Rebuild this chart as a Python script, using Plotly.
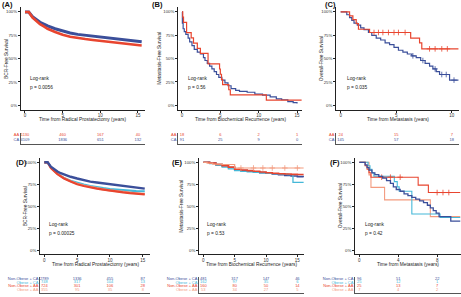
import numpy as np
import plotly.graph_objects as go

W, H = 461, 297
def fx(px): return px / W
def fy(py): return 1 - py / H

RED = '#E8452F'; NAVY = '#3B4F9A'; CYAN = '#45B8D8'; SALMON = '#F39B7F'
FONT = 'Liberation Sans, Arial, sans-serif'

# ---------------- data ----------------
# Panel A: BCR-free survival by race
a_t = [0, 0.5, 1, 1.5, 2, 2.5, 3, 4, 5, 6, 7, 8, 9, 10, 11, 12, 13, 14, 15, 15.5]
a_ca = [1, 1, 0.95, 0.915, 0.89, 0.87, 0.85, 0.82, 0.795, 0.775, 0.76, 0.75, 0.74, 0.73, 0.72, 0.712, 0.703, 0.695, 0.685, 0.68]
a_aa = [1, 1, 0.94, 0.90, 0.87, 0.845, 0.82, 0.785, 0.755, 0.735, 0.72, 0.71, 0.70, 0.69, 0.68, 0.67, 0.66, 0.65, 0.643, 0.64]

# Panel B: metastasis-free survival by race
b_ca_t = [0, 0.05, 0.15, 0.3, 0.5, 0.8, 1.0, 1.3, 1.6, 2.0, 2.4, 2.8, 3.0, 3.3, 3.6, 3.9, 4.2, 4.5, 4.8, 5.2, 5.6, 6.0, 6.4, 7.0, 7.5, 8.5, 9.5, 10.5, 11.5, 12.3, 13.0, 13.8, 14.5, 15.0]
b_ca_s = [1.0, 0.88, 0.82, 0.79, 0.76, 0.72, 0.68, 0.64, 0.60, 0.57, 0.55, 0.51, 0.48, 0.45, 0.42, 0.39, 0.36, 0.33, 0.30, 0.27, 0.24, 0.21, 0.18, 0.16, 0.15, 0.14, 0.12, 0.11, 0.09, 0.07, 0.06, 0.04, 0.03, 0.02]
b_aa_t = [0, 0.1, 0.2, 0.6, 1.2, 1.5, 2.0, 2.4, 3.4, 4.9, 5.0, 5.15, 5.3, 6.1, 6.3, 11.0, 15.6]
b_aa_s = [1.0, 0.944, 0.889, 0.778, 0.722, 0.667, 0.611, 0.556, 0.444, 0.389, 0.333, 0.278, 0.222, 0.167, 0.111, 0.056, 0.056]

# Panel C: overall survival by race
c_aa_t = [0, 0.8, 1.1, 1.4, 1.6, 2.6, 6.3, 7.1, 7.3, 10.6]
c_aa_s = [1.0, 0.958, 0.917, 0.875, 0.815, 0.78, 0.72, 0.67, 0.605, 0.605]
c_aa_cens = [3.0, 3.4, 3.8, 4.3, 4.8, 5.2, 5.8, 8.0, 8.5, 9.1, 9.6]
c_ca_t = [0, 0.55, 0.8, 1.0, 1.2, 1.5, 1.8, 2.1, 2.5, 2.8, 3.2, 3.6, 4.0, 4.4, 4.8, 5.2, 5.6, 6.0, 6.4, 6.8, 7.2, 7.6, 8.0, 8.3, 8.6, 8.9, 9.8, 10.6]
c_ca_s = [1.0, 0.97, 0.94, 0.91, 0.88, 0.86, 0.83, 0.81, 0.78, 0.75, 0.72, 0.70, 0.67, 0.65, 0.62, 0.59, 0.57, 0.55, 0.53, 0.51, 0.48, 0.45, 0.42, 0.39, 0.36, 0.33, 0.27, 0.27]
c_ca_cens = [6.5, 7.4, 8.5, 9.1, 9.5, 10.2]

# Panel D: BCR-free survival by obesity and race
d_t = [0, 0.5, 1, 1.5, 2, 2.5, 3, 4, 5, 6, 7, 8, 9, 10, 11, 12, 13, 14, 15, 15.3]
d_nca = [1, 1, 0.95, 0.92, 0.895, 0.875, 0.86, 0.835, 0.815, 0.795, 0.78, 0.77, 0.76, 0.75, 0.74, 0.73, 0.72, 0.71, 0.70, 0.70]
d_oca = [1, 1, 0.94, 0.90, 0.87, 0.845, 0.82, 0.79, 0.765, 0.745, 0.73, 0.715, 0.705, 0.695, 0.688, 0.682, 0.677, 0.672, 0.67, 0.67]
d_naa = [1, 1, 0.935, 0.895, 0.865, 0.84, 0.815, 0.78, 0.75, 0.73, 0.713, 0.70, 0.688, 0.675, 0.665, 0.656, 0.648, 0.64, 0.635, 0.635]
d_oaa = [1, 1, 0.94, 0.90, 0.87, 0.845, 0.82, 0.785, 0.755, 0.735, 0.718, 0.705, 0.692, 0.68, 0.67, 0.662, 0.654, 0.647, 0.64, 0.64]

# Panel E: metastasis-free survival by obesity and race
e_t = [0, 0.5, 1, 2, 3, 4, 5, 6, 7, 8, 9, 10, 11, 12, 13, 14, 15, 16]
e_nca = [1, 1, 0.99, 0.975, 0.96, 0.94, 0.915, 0.905, 0.897, 0.89, 0.882, 0.875, 0.866, 0.858, 0.85, 0.843, 0.837, 0.835]
e_oca_t = [0, 0.5, 1, 2, 3, 4, 5, 6, 7, 8, 9, 10, 11, 12, 13.5, 14.3, 16]
e_oca = [1, 1, 0.985, 0.965, 0.945, 0.925, 0.905, 0.897, 0.89, 0.885, 0.88, 0.875, 0.87, 0.865, 0.86, 0.77, 0.77]
e_naa = [1, 1, 0.99, 0.975, 0.96, 0.945, 0.92, 0.912, 0.905, 0.898, 0.89, 0.88, 0.875, 0.87, 0.866, 0.862, 0.86, 0.86]
e_oaa_t = [0, 0.6, 1.5, 3.0, 5.0, 16]
e_oaa = [1, 0.99, 0.98, 0.975, 0.935, 0.935]
e_oaa_cens = [6, 8, 9.5, 11, 13, 15]

# Panel F: overall survival by obesity and race
f_nca_t = [0, 0.6, 0.8, 1.0, 1.3, 1.6, 2.0, 2.4, 2.8, 3.2, 3.5, 3.8, 4.2, 4.6, 5.0, 5.4, 5.8, 6.2, 6.6, 7.0, 7.3, 7.6, 7.9, 8.2, 9.4, 10.4]
f_nca_s = [1, 0.97, 0.94, 0.91, 0.88, 0.86, 0.84, 0.82, 0.79, 0.76, 0.72, 0.69, 0.67, 0.64, 0.62, 0.60, 0.58, 0.56, 0.54, 0.51, 0.48, 0.45, 0.42, 0.38, 0.33, 0.33]
f_oca_t = [0, 0.9, 1.1, 1.3, 1.5, 3.6, 3.9, 4.1, 5.4, 8.3, 10.4]
f_oca_s = [1, 0.96, 0.92, 0.88, 0.84, 0.78, 0.72, 0.67, 0.41, 0.37, 0.37]
f_naa_t = [0, 0.6, 0.8, 1.0, 1.2, 6.05, 7.1, 10.4]
f_naa_s = [1, 0.96, 0.92, 0.88, 0.83, 0.74, 0.655, 0.655]
f_naa_cens = [2.3, 3.2, 4.2, 8.0, 8.6, 9.2]
f_oaa_t = [0, 1.0, 1.2, 2.6, 7.3, 10.4]
f_oaa_s = [1, 0.857, 0.714, 0.571, 0.381, 0.381]

# risk tables
ab_times = [0, 5, 10, 15]
a_risk_aa = [1130, 460, 167, 40]
a_risk_ca = [4109, 1836, 651, 132]
b_risk_aa = [18, 6, 2, 1]
b_risk_ca = [91, 25, 9, 0]
c_times = [0, 5, 10]
c_risk_aa = [24, 15, 7]
c_risk_ca = [145, 57, 18]
d_risk = [[2789, 1336, 455, 87], [748, 317, 104, 13], [724, 301, 106, 28], [355, 95, 35, 8]]
e_risk = [[481, 317, 147, 46], [162, 97, 35, 6], [160, 80, 50, 14], [53, 34, 27, 5]]
f_times = [0, 4, 8]
f_risk = [[96, 51, 22], [25, 12, 1], [25, 13, 7], [7, 4, 2]]
group_labels = ['Non-Obese + CA', 'Obese + CA', 'Non-Obese + AA', 'Obese + AA']
group_colors = [NAVY, CYAN, RED, SALMON]

panels = [
    dict(lab='(A)', labpos=(0, 4), xd=(20.7, 145), xr=(-0.57, 15.94), yd=(7.3, 110), rd=(132.5, 144), nrows=2,
         curves=[(a_t, a_ca, NAVY, 3.0, 'linear', None), (a_t, a_aa, RED, 2.6, 'linear', None)],
         ticks=ab_times, rt=ab_times, risk=[a_risk_aa, a_risk_ca], rl=['AA', 'CA'], rc=[RED, NAVY],
         xt='Time from Radical Prostatectomy (years)', yt='BCR-Free Survival', ytx=6.3, xty=120,
         p='p = 0.0056', lr=(0.4, 0.29)),
    dict(lab='(B)', labpos=(150, 4), xd=(178, 302), xr=(-0.52, 15.65), yd=(7.3, 110), rd=(132.5, 144), nrows=2,
         curves=[(b_ca_t, b_ca_s, NAVY, 1.2, 'hv', None), (b_aa_t, b_aa_s, RED, 1.2, 'hv', None)],
         ticks=ab_times, rt=ab_times, risk=[b_risk_aa, b_risk_ca], rl=['AA', 'CA'], rc=[RED, NAVY],
         xt='Time from Biochemical Recurrence (years)', yt='Metastasis-Free Survival', ytx=160, xty=120,
         p='p = 0.56', lr=(0.48, 0.29)),
    dict(lab='(C)', labpos=(323, 4), xd=(336, 459), xr=(-0.42, 10.65), yd=(7.3, 110), rd=(132.5, 144), nrows=2,
         curves=[(c_ca_t, c_ca_s, NAVY, 1.2, 'hv', c_ca_cens), (c_aa_t, c_aa_s, RED, 1.2, 'hv', c_aa_cens)],
         ticks=c_times, rt=c_times, risk=[c_risk_aa, c_risk_ca], rl=['AA', 'CA'], rc=[RED, NAVY],
         xt='Time from Metastasis (years)', yt='Overall-Free Survival', ytx=321.5, xty=120,
         p='p = 0.035', lr=(0.39, 0.29)),
    dict(lab='(D)', labpos=(14, 162), xd=(40, 150), xr=(-0.66, 16.1), yd=(157.9, 254.4), rd=(276.65, 292.56), nrows=4,
         curves=[(d_t, d_oca, CYAN, 2.2, 'linear', None), (d_t, d_oaa, SALMON, 2.2, 'linear', None),
                 (d_t, d_naa, RED, 2.2, 'linear', None), (d_t, d_nca, NAVY, 2.4, 'linear', None)],
         ticks=ab_times, rt=ab_times, risk=d_risk, rl=group_labels, rc=group_colors,
         xt='Time from Radical Prostatectomy (years)', yt='BCR-Free Survival', ytx=25, xty=264.5,
         p='p = 0.00025', lr=(0.36, 0.29)),
    dict(lab='(E)', labpos=(170, 162), xd=(199, 304), xr=(-0.69, 16.06), yd=(157.9, 254.4), rd=(276.65, 292.56), nrows=4,
         curves=[(e_t, e_nca, NAVY, 1.6, 'hv', None), (e_oca_t, e_oca, CYAN, 1.3, 'hv', None),
                 (e_t, e_naa, RED, 1.6, 'hv', None), (e_oaa_t, e_oaa, SALMON, 1.2, 'hv', e_oaa_cens)],
         ticks=ab_times, rt=ab_times, risk=e_risk, rl=group_labels, rc=group_colors,
         xt='Time from Biochemical Recurrence (years)', yt='Metastasis-Free Survival', ytx=181.5, xty=264.5,
         p='p = 0.53', lr=(0.27, 0.29)),
    dict(lab='(F)', labpos=(328, 162), xd=(355, 460.5), xr=(-0.44, 10.4), yd=(157.9, 254.4), rd=(276.65, 292.56), nrows=4,
         curves=[(f_oaa_t, f_oaa_s, SALMON, 1.1, 'hv', None), (f_oca_t, f_oca_s, CYAN, 1.1, 'hv', None),
                 (f_naa_t, f_naa_s, RED, 1.1, 'hv', f_naa_cens), (f_nca_t, f_nca_s, NAVY, 1.3, 'hv', None)],
         ticks=[0, 4, 8], rt=f_times, risk=f_risk, rl=group_labels, rc=group_colors,
         xt='Time from Metastasis (years)', yt='Overall-Free Survival', ytx=340, xty=264.5,
         p='p = 0.42', lr=(0.41, 0.29)),
]

fig = go.Figure()
layout = dict(width=W, height=H, margin=dict(l=0, r=0, t=0, b=0, autoexpand=False), showlegend=False,
              paper_bgcolor='white', plot_bgcolor='white', font=dict(family=FONT, color='#222'))
annotations = []
AX = '#222'

def step_lookup(t, s, c):
    i = np.searchsorted(np.asarray(t), c, side='right') - 1
    return np.asarray(s)[i]

for i, P in enumerate(panels):
    m, r = 2 * i + 1, 2 * i + 2
    xm, ym = ('x' if m == 1 else f'x{m}'), ('y' if m == 1 else f'y{m}')
    xr_, yr_ = f'x{r}', f'y{r}'
    kx = lambda n: 'xaxis' if n == 1 else f'xaxis{n}'
    ky = lambda n: 'yaxis' if n == 1 else f'yaxis{n}'
    dom_x = [fx(P['xd'][0]), fx(P['xd'][1])]
    layout[kx(m)] = dict(domain=dom_x, range=list(P['xr']), anchor=ym, tickvals=P['ticks'], automargin=False,
                         ticktext=[str(v) for v in P['ticks']], ticks='outside', ticklen=2, tickwidth=0.5,
                         ticklabelstandoff=-1,
                         tickcolor=AX, showline=True, linecolor=AX, linewidth=0.6, showgrid=False,
                         zeroline=False, tickfont=dict(size=4.5, color='#333'))
    layout[ky(m)] = dict(domain=[fy(P['yd'][1]), fy(P['yd'][0])], range=[-0.05, 1.05], anchor=xm,
                         tickvals=[0, 0.25, 0.5, 0.75, 1], ticktext=['0%', '25%', '50%', '75%', '100%'],
                         ticks='outside', ticklen=2, tickwidth=0.5, tickcolor=AX, showline=True, automargin=False,
                         linecolor=AX, linewidth=0.6, showgrid=False, zeroline=False,
                         tickfont=dict(size=4.3, color='#333'))
    n = P['nrows']
    layout[kx(r)] = dict(domain=dom_x, range=list(P['xr']), anchor=yr_, showticklabels=False, ticks='',
                         automargin=False,
                         showline=True, linecolor='#555', linewidth=0.6, showgrid=False, zeroline=False)
    layout[ky(r)] = dict(domain=[fy(P['rd'][1]), fy(P['rd'][0])], range=[-0.8, n - 0.5], anchor=xr_,
                         tickvals=list(range(n - 1, -1, -1)), automargin=False,
                         ticktext=[f'<span style="color:{c}">{l}</span>' for l, c in zip(P['rl'], P['rc'])],
                         ticks='', showline=True, linecolor='#555', linewidth=0.6, showgrid=False,
                         zeroline=False, tickfont=dict(size=4))
    # curves
    for (t, s, col, w, shape, cens) in P['curves']:
        fig.add_trace(go.Scatter(x=t, y=s, mode='lines', line=dict(color=col, width=w, shape=shape),
                                 xaxis=xm, yaxis=ym, hoverinfo='skip'))
        if cens is not None:
            fig.add_trace(go.Scatter(x=cens, y=step_lookup(t, s, cens), mode='markers',
                                     marker=dict(symbol='cross-thin', size=4, line=dict(color=col, width=0.8)),
                                     xaxis=xm, yaxis=ym, hoverinfo='skip'))
    # risk table
    for k, (vals, col) in enumerate(zip(P['risk'], P['rc'])):
        fig.add_trace(go.Scatter(x=P['rt'], y=[n - 1 - k] * len(P['rt']), mode='text',
                                 text=[str(v) for v in vals], textfont=dict(size=4, color=col),
                                 textposition='middle center', cliponaxis=False,
                                 xaxis=xr_, yaxis=yr_, hoverinfo='skip'))
    # annotations
    annotations.append(dict(text='Log-rank', x=P['lr'][0], y=P['lr'][1], xref=xm, yref=ym, xanchor='left',
                            yanchor='middle', showarrow=False, font=dict(size=4.8, color='#222')))
    annotations.append(dict(text=P['p'], x=P['lr'][0], y=P['lr'][1] - 0.1, xref=xm, yref=ym, xanchor='left',
                            yanchor='middle', showarrow=False, font=dict(size=4.8, color='#222')))
    annotations.append(dict(text=f"<b>{P['lab']}</b>", x=fx(P['labpos'][0]), y=fy(P['labpos'][1]),
                            xref='paper', yref='paper', xanchor='left', yanchor='middle', showarrow=False,
                            font=dict(size=7.5, color='#111')))
    annotations.append(dict(text=P['xt'], x=(dom_x[0] + dom_x[1]) / 2, y=fy(P['xty']), xref='paper',
                            yref='paper', xanchor='center', yanchor='middle', showarrow=False,
                            font=dict(size=4.8, color='#222')))
    annotations.append(dict(text=P['yt'], x=fx(P['ytx']), y=fy((P['yd'][0] + P['yd'][1]) / 2), xref='paper',
                            yref='paper', xanchor='center', yanchor='middle', textangle=-90, showarrow=False,
                            font=dict(size=4.8, color='#222')))

layout['annotations'] = annotations
fig.update_layout(**layout)
fig.write_html("out.html", config={'displayModeBar': False},
               post_script="document.body.style.margin='0';document.body.style.padding='0';")
